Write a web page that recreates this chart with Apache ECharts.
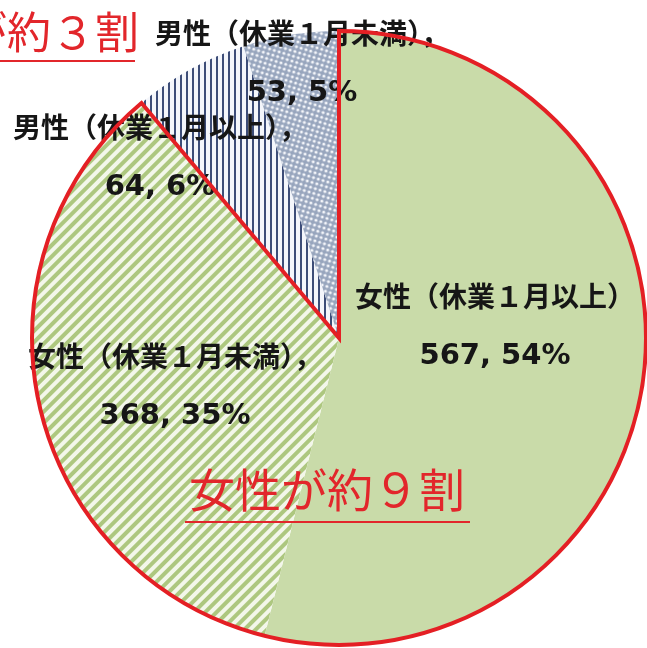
<!DOCTYPE html>
<html><head><meta charset="utf-8">
<script src="https://cdn.jsdelivr.net/npm/echarts@6/dist/echarts.min.js"></script>
<style>html,body{margin:0;padding:0;background:#fff}#c{width:647px;height:648px}</style>
</head><body><div id="c"></div>
<script>
const categories = ['女性（休業１月以上）', '女性（休業１月未満）', '男性（休業１月以上）', '男性（休業１月未満）'];
const values = [567, 368, 64, 53];
const groups = ['女性', '女性', '男性', '男性'];
const trailing = ['', '，', '，', '，'];
const annotations = ['女性が約９割', '男性が約３割'];

const labelPos = [[495, 328], [175, 388], [160, 159], [302, 65]];
const fills = ['#c9dba9', '#f3f7ea', '#f4f6fb', '#97a5bd'];
const decals = [
  null,
  {symbol: 'rect', symbolSize: 1, color: '#adc77f', dashArrayX: [1, 0], dashArrayY: [4, 4], rotation: -Math.PI / 4},
  {symbol: 'rect', symbolSize: 1, color: '#3d4d78', dashArrayX: [2, 4], dashArrayY: [1, 0], rotation: 0},
  {symbol: 'circle', symbolSize: 0.8, color: '#f4f6fa', dashArrayX: [4, 1], dashArrayY: [4, 1], rotation: 0.3}
];

const femaleTotal = values.filter((v, i) => groups[i] === '女性').reduce((a, b) => a + b, 0);
const maleTotal = values.filter((v, i) => groups[i] === '男性').reduce((a, b) => a + b, 0);

const center = [339, 338];
const radius = 307;
const font = "'DejaVu Sans', 'Noto Sans CJK JP', sans-serif";

const chart = echarts.init(document.getElementById('c'));
chart.setOption({
  backgroundColor: '#ffffff',
  animation: false,
  series: [
    {
      type: 'pie',
      center: center,
      radius: radius,
      startAngle: 90,
      clockwise: true,
      silent: true,
      percentPrecision: 0,
      data: categories.map((c, i) => {
        const it = {name: c, value: values[i], itemStyle: {color: fills[i], borderWidth: 0}};
        if (decals[i]) it.itemStyle.decal = decals[i];
        return it;
      }),
      label: {
        show: true,
        position: 'inside',
        formatter: p => '{t|' + p.name + trailing[p.dataIndex] + '}\n{n|' + p.value + ', ' + p.percent + '%}',
        rich: {
          t: {fontFamily: font, fontWeight: 'bold', fontSize: 28, lineHeight: 57, color: '#161616'},
          n: {fontFamily: font, fontWeight: 'bold', fontSize: 29, lineHeight: 57, color: '#161616'}
        },
        align: 'center'
      },
      labelLine: {show: false},
      labelLayout: p => ({x: labelPos[p.dataIndex][0], y: labelPos[p.dataIndex][1], align: 'center', verticalAlign: 'middle'})
    },
    {
      type: 'pie',
      center: center,
      radius: radius,
      startAngle: 90,
      clockwise: true,
      silent: true,
      z: 3,
      label: {show: false},
      labelLine: {show: false},
      data: [
        {name: '女性', value: femaleTotal, itemStyle: {color: 'rgba(0,0,0,0)', borderColor: '#e41f24', borderWidth: 4, borderJoin: 'miter'}},
        {name: '男性', value: maleTotal, itemStyle: {color: 'rgba(0,0,0,0)', borderWidth: 0}}
      ]
    }
  ],
  graphic: [
    {type: 'text', z: 10, style: {text: annotations[0], x: 327, y: 495, align: 'center', verticalAlign: 'middle', fontFamily: font, fontSize: 46, fill: '#e2262b'}},
    {type: 'line', z: 10, shape: {x1: 185, y1: 522, x2: 470, y2: 522}, style: {stroke: '#e2262b', lineWidth: 2}},
    {type: 'text', z: 10, style: {text: annotations[1], x: 139, y: 38, align: 'right', verticalAlign: 'middle', fontFamily: font, fontSize: 44, fill: '#e2262b'}},
    {type: 'line', z: 10, shape: {x1: 0, y1: 61, x2: 135, y2: 61}, style: {stroke: '#e2262b', lineWidth: 2}}
  ]
});
</script></body></html>
